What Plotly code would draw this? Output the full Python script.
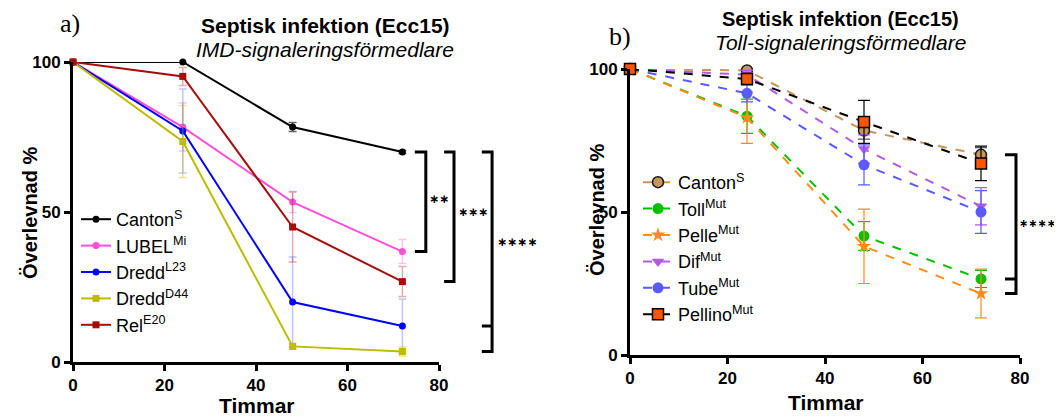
import plotly.graph_objects as go

hours = [0, 24, 48, 72]

# Panel a (IMD)
a_names = ["Canton<sup>S</sup>", "LUBEL<sup>Mi</sup>", "Dredd<sup>L23</sup>", "Dredd<sup>D44</sup>", "Rel<sup>E20</sup>"]
canton_a = [100, 100, 78.3, 70]
lubel = [100, 78.3, 53.3, 36.8]
dredd_l23 = [100, 77, 20, 12]
dredd_d44 = [100, 73.5, 5.2, 3.5]
rel = [100, 95.2, 45, 26.8]
canton_a_err = [0, 0, 1.5, 0.5]
lubel_err = [0, 8, 3.5, 4]
dredd_l23_err = [0, 14, 15, 9]
dredd_d44_err = [0, 12, 1, 1.5]
rel_err = [0, 3, 11.7, 5]

# Panel b (Toll)
b_names = ["Canton<sup>S</sup>", "Toll<sup>Mut</sup>", "Pelle<sup>Mut</sup>", "Dif<sup>Mut</sup>", "Tube<sup>Mut</sup>", "Pellino<sup>Mut</sup>"]
canton_b = [100, 99.5, 78.5, 70]
toll = [100, 83.5, 41.6, 26.6]
pelle = [100, 83, 38, 21.5]
dif = [100, 98, 72, 52]
tube = [100, 91.5, 66.5, 50]
pellino = [100, 96.5, 81.5, 67]
canton_b_err = [0, 1.5, 3, 2.5]
toll_err = [0, 6, 5, 3]
pelle_err = [0, 9, 13, 8.5]
dif_err = [0, 1.5, 5, 6.5]
tube_err = [0, 3, 7, 7.5]
pellino_err = [0, 2, 7.5, 6]

x_ticks = [0, 20, 40, 60, 80]
y_ticks = [0, 50, 100]

# page has an 8px body margin; work in window pixels and convert
OFF = 8
W, H = 1062 - OFF, 418 - OFF

def px(x):
    return (x - OFF) / W

def py(y):
    return 1 - (y - OFF) / H

FONT = "Arial, Liberation Sans"

fig = go.Figure()

a_series = [
    (a_names[0], canton_a, canton_a_err, "#000000", "rgba(60,60,60,0.8)", "circle"),
    (a_names[1], lubel, lubel_err, "#FF4FD8", "rgba(255,80,200,0.35)", "circle"),
    (a_names[2], dredd_l23, dredd_l23_err, "#0000FF", "rgba(60,60,255,0.3)", "circle"),
    (a_names[3], dredd_d44, dredd_d44_err, "#BDBD00", "rgba(190,190,0,0.4)", "square"),
    (a_names[4], rel, rel_err, "#A50D0D", "rgba(170,20,20,0.35)", "square"),
]
for name, ys, err, col, ecol, sym in a_series:
    fig.add_trace(go.Scatter(
        x=hours, y=ys, name=name, mode="lines+markers",
        line=dict(color=col, width=2),
        marker=dict(color=col, size=7, symbol=sym),
        error_y=dict(type="data", array=err, color=ecol, thickness=1.5, width=4),
        xaxis="x", yaxis="y", legend="legend", cliponaxis=False,
    ))

b_series = [
    (b_names[0], canton_b, canton_b_err, "#C8965A", "circle", "#1a1a1a"),
    (b_names[1], toll, toll_err, "#00C000", "circle", "#00C000"),
    (b_names[2], pelle, pelle_err, "#FF8C1A", "star", "#FF8C1A"),
    (b_names[3], dif, dif_err, "#B45AE6", "triangle-down", "#B45AE6"),
    (b_names[4], tube, tube_err, "#5A5AFF", "circle", "#5A5AFF"),
    (b_names[5], pellino, pellino_err, "#FF5500", "square", "#000000"),
]
for name, ys, err, col, sym, mline in b_series:
    lc = "#000000" if "Pellino" in name else col
    fig.add_trace(go.Scatter(
        x=hours, y=ys, name=name, mode="lines+markers",
        line=dict(color=lc, width=2, dash="dash"),
        marker=dict(color=col, size=11, symbol=sym,
                    line=dict(color=mline, width=1.5 if mline != col else 0)),
        error_y=dict(type="data", array=err, color=lc if "Canton" not in name else "#555555",
                     thickness=1.2, width=6),
        xaxis="x2", yaxis="y2", legend="legend2", cliponaxis=False,
    ))

axis_common = dict(
    showgrid=False, zeroline=False, showline=True, linecolor="black", linewidth=3,
    ticks="outside", ticklen=6, tickwidth=3, tickcolor="black",
    tickfont=dict(family=FONT, size=17, color="black"),
    automargin=False,
)
x_tt = [f"<b>{v}</b>" for v in x_ticks]
y_tt = [f"<b>{v}</b>" for v in y_ticks]

fig.update_layout(
    width=W, height=H,
    margin=dict(l=0, r=0, t=0, b=0),
    paper_bgcolor="white", plot_bgcolor="white",
    font=dict(family=FONT, color="black"),
    xaxis=dict(domain=[px(73), px(439)], range=[0, 80], tickvals=x_ticks, ticktext=x_tt, anchor="y", **axis_common),
    yaxis=dict(domain=[py(362), py(62)], range=[0, 100], tickvals=y_ticks, ticktext=y_tt, anchor="x", **axis_common),
    xaxis2=dict(domain=[px(630), px(1020)], range=[0, 80], tickvals=x_ticks, ticktext=x_tt, anchor="y2", **axis_common),
    yaxis2=dict(domain=[py(355), py(69)], range=[0, 100], tickvals=y_ticks, ticktext=y_tt, anchor="x2", **axis_common),
    legend=dict(x=px(76), y=py(201), xanchor="left", yanchor="top", bgcolor="rgba(0,0,0,0)",
                font=dict(size=18, family=FONT), tracegroupgap=0, itemwidth=30),
    legend2=dict(x=px(638), y=py(164), xanchor="left", yanchor="top", bgcolor="rgba(0,0,0,0)",
                 font=dict(size=18, family=FONT), tracegroupgap=0, itemwidth=30),
    showlegend=True,
)

def ann(text, x, y, size, family=FONT, **kw):
    fig.add_annotation(text=text, x=px(x), y=py(y), xref="paper", yref="paper",
                       xanchor="center", yanchor="middle", showarrow=False,
                       font=dict(size=size, color="black", family=family), **kw)

ann("a)", 70, 23, 26, family="Liberation Serif, Times New Roman")
ann("b)", 620, 36, 26, family="Liberation Serif, Times New Roman")
ann("<b>Septisk infektion (Ecc15)</b>", 325, 25, 21)
ann("<i>IMD-signaleringsförmedlare</i>", 325, 50, 21)
ann("<b>Septisk infektion (Ecc15)</b>", 840, 19, 20)
ann("<i>Toll-signaleringsförmedlare</i>", 840, 43, 21)
ann("<b>Timmar</b>", 256, 405, 21)
ann("<b>Timmar</b>", 825, 402, 21)
ann("<b>Överlevnad %</b>", 30, 213, 20, textangle=-90)
ann("<b>Överlevnad %</b>", 597, 210, 20, textangle=-90)

# Significance brackets
def bracket(xref, yref, x0, x1, ytop, ybot, ticks=()):
    path = f"M {x0} {ytop} L {x1} {ytop} L {x1} {ybot} L {x0} {ybot}"
    for t in ticks:
        path += f" M {x0} {t} L {x1} {t}"
    fig.add_shape(type="path", path=path, xref=xref, yref=yref,
                  line=dict(color="black", width=3), layer="above")

def stars(xref, yref, x, y, text, size=12):
    fig.add_annotation(text=f"<b>{text}</b>", x=x, y=y, xref=xref, yref=yref, showarrow=False,
                       xanchor="center", yanchor="middle",
                       font=dict(size=size, color="black", family="DejaVu Sans"))

bracket("x domain", "y", 0.934, 0.964, canton_a[-1], lubel[-1])
stars("x domain", "y", 1.0, 54.5, "∗∗")
bracket("x domain", "y", 1.014, 1.041, canton_a[-1], rel[-1])
stars("x domain", "y", 1.093, 50, "∗∗∗")
bracket("x domain", "y", 1.117, 1.145, canton_a[-1], dredd_d44[-1], ticks=(dredd_l23[-1],))
stars("x domain", "y", 1.212, 40, "∗∗∗∗")

bracket("x2 domain", "y2", 0.9615, 0.9897, canton_b[-1], pelle[-1], ticks=(toll[-1],))
stars("x2 domain", "y2", 1.045, 46, "∗∗∗∗", size=11)

fig.write_html("out.html")
